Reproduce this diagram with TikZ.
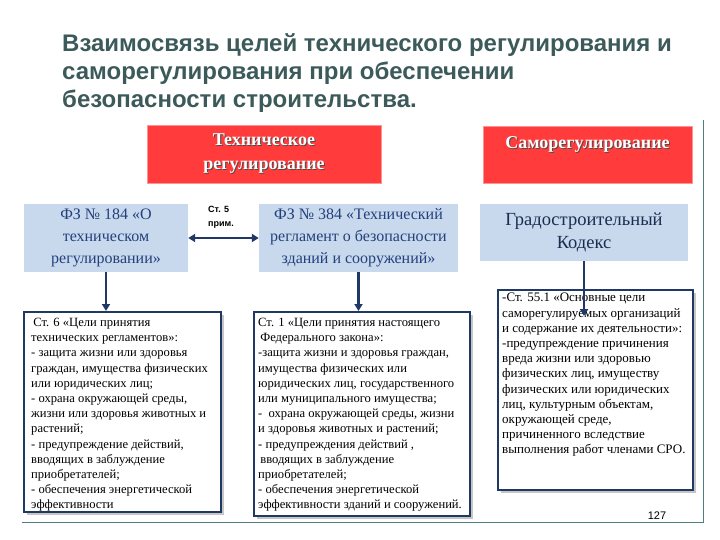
\documentclass[tikz,border=0pt]{standalone}
\usepackage{fontspec}
\setmainfont{Liberation Serif}
\newfontfamily\headfont{Liberation Sans}
\usetikzlibrary{arrows.meta,shadows,positioning}

\definecolor{hdrred}{HTML}{FF3B3B}
\definecolor{lawblue}{HTML}{C8D9EE}
\definecolor{navy}{HTML}{1F3864}
\definecolor{lawtext}{HTML}{23407A}
\definecolor{titlegray}{HTML}{3C5A5A}
\definecolor{framegreen}{HTML}{4F8080}

\tikzset{
  header/.style={fill=hdrred, draw=hdrred!55, inner sep=0pt},
  hdrtext/.style={text=white, font=\bfseries\fontsize{18}{24}\selectfont, align=center, inner sep=0pt},
  hdrshadow/.style={hdrtext, text=black!70, xshift=1pt, yshift=-1pt},
  law/.style={fill=lawblue, text=lawtext, align=center, inner sep=0pt, font=\fontsize{16}{22}\selectfont},
  goalbox/.style={draw=navy, line width=2pt, fill=white, inner sep=0pt,
    drop shadow={shadow xshift=3pt, shadow yshift=-3pt, fill=gray!45, opacity=1}},
  goaltext/.style={anchor=north west, align=left, inner sep=0pt, font=\fontsize{12.6}{15.2}\selectfont},
  link/.style={navy, line width=2.5pt, -{Triangle[length=7pt,width=8pt]}},
}

\begin{document}
\begin{tikzpicture}[x=1pt, y=-1pt]
    \useasboundingbox (0,0) rectangle (720,540);

    % Title
    \node[anchor=north west, align=left, inner sep=0pt, text=titlegray,
          font=\headfont\bfseries\fontsize{24}{28}\selectfont] (title) at (62,33)
        {Взаимосвязь целей технического регулирования и\\
         саморегулирования при обеспечении\\
         безопасности строительства.};

    % Slide frame
    \draw[framegreen, line width=0.8pt] (703,120) -- (703,522) -- (22,522);
    \node[font=\headfont\fontsize{11}{13}\selectfont, anchor=base] (page) at (657,519) {127};

    % Red headers
    \node[header, minimum width=234pt, minimum height=58pt] (techreg) at (264,154) {};
    \node[hdrshadow] at (techreg) {Техническое\\регулирование};
    \node[hdrtext] (techregtxt) at (techreg) {Техническое\\регулирование};
    \node[header, minimum width=209pt, minimum height=57pt] (selfreg) at (587.5,154.5) {};
    \node[hdrshadow] at (selfreg) {Саморегулирование\\~};
    \node[hdrtext] (selfregtxt) at (selfreg) {Саморегулирование\\~};

    % Laws
    \node[law, minimum width=164pt, minimum height=68pt] (fz184) at (106,238)
        {ФЗ № 184 «О\\техническом\\регулировании»};
    \node[law, minimum width=199pt, minimum height=68pt] (fz384) at (358.5,238)
        {ФЗ № 384 «Технический\\регламент о безопасности\\зданий и сооружений»};
    \node[law, text=navy!80!black, font=\fontsize{18.5}{23}\selectfont,
          minimum width=208pt, minimum height=57pt] (gk) at (584,232.5)
        {Градостроительный\\Кодекс};

    % Link between the two laws
    \draw[link, {Triangle[length=7pt,width=8pt]}-{Triangle[length=7pt,width=8pt]}] (fz184.east) -- (fz384.west);
    \node[font=\headfont\bfseries\fontsize{9}{14}\selectfont, align=left, inner sep=0pt] (art5) at (221,217) {Ст. 5\\прим.};

    % Goal boxes
    \node[goalbox, minimum width=197pt, minimum height=200pt] (goals184) at (122.5,412) {};
    \node[goaltext] (goals184txt) at (31,318)
        {\,Ст. 6 «Цели принятия\\
         технических регламентов»:\\
         - защита жизни или здоровья\\
         граждан, имущества физических\\
         или юридических лиц;\\
         - охрана окружающей среды,\\
         жизни или здоровья животных и\\
         растений;\\
         - предупреждение действий,\\
         вводящих в заблуждение\\
         приобретателей;\\
         - обеспечения энергетической\\
         эффективности};

    \node[goalbox, minimum width=216pt, minimum height=204pt] (goals384) at (362,414) {};
    \node[goaltext] (goals384txt) at (258,318)
        {Ст. 1 «Цели принятия настоящего\\
         \,Федерального закона»:\\
         -защита жизни и здоровья граждан,\\
         имущества физических или\\
         юридических лиц, государственного\\
         или муниципального имущества;\\
         -\ \ охрана окружающей среды, жизни\\
         и здоровья животных и растений;\\
         - предупреждения действий ,\\
         \,вводящих в заблуждение\\
         приобретателей;\\
         - обеспечения энергетической\\
         эффективности зданий и сооружений.};

    \node[goalbox, minimum width=195pt, minimum height=200pt] (goalssro) at (595.5,390) {};
    \node[goaltext, font=\fontsize{13}{15.2}\selectfont] (goalssrotxt) at (502,293)
        {-Ст. 55.1 «Основные цели\\
         саморегулируемых организаций\\
         и содержание их деятельности»:\\
         -предупреждение причинения\\
         вреда жизни или здоровью\\
         физических лиц, имуществу\\
         физических или юридических\\
         лиц, культурным объектам,\\
         окружающей среде,\\
         причиненного вследствие\\
         выполнения работ членами СРО.};

    % Arrows down to the goals
    \coordinate (gkend) at (584,316);
    \draw[link] (fz184.south) -- (fz184.south |- goals184.north);
    \draw[link] (fz384.south) -- (fz384.south |- goals384.north);
    \draw[link] (gk.south) -- (gkend);
\end{tikzpicture}
\end{document}
